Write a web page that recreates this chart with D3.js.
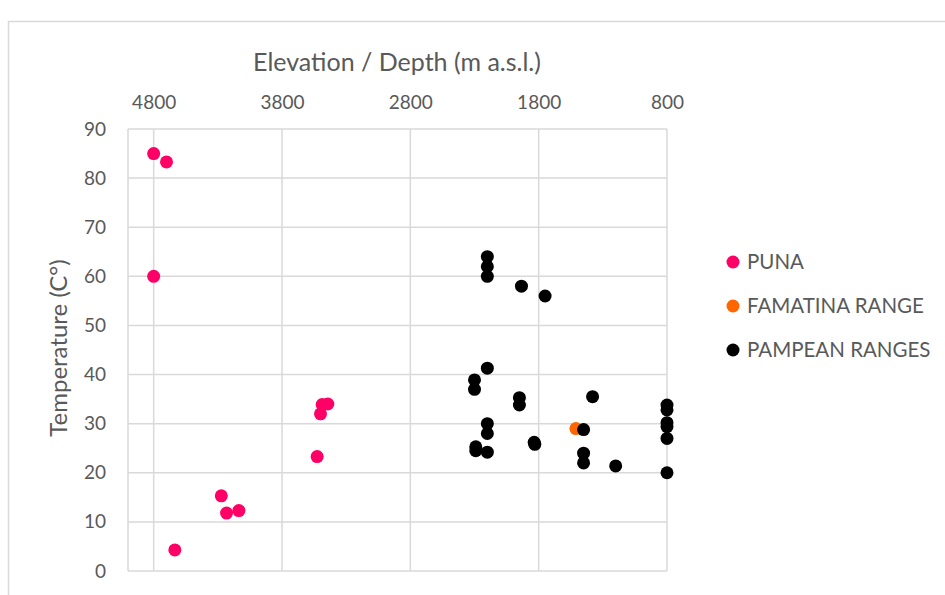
<html>
<head>
<meta charset="utf-8">
<style>
  body { margin: 0; background: #fff; }
  text { font-family: Lato, "Open Sans", sans-serif; fill: #595959; }
  .grid line { stroke: #d9d9d9; stroke-width: 1.5; }
</style>
</head>
<body>
<svg id="chart" width="945" height="595"></svg>
<script src="https://cdn.jsdelivr.net/npm/d3@7"></script>
<script>
// elevation (m a.s.l.) and temperature (°C)
let punaElev = [4800, 4700, 4800, 4635, 4273, 4232, 4136, 3526, 3500, 3487, 3443]
let punaTemp = [85, 83.3, 60, 4.3, 15.3, 11.8, 12.3, 23.3, 32, 33.9, 34]

let famatinaElev = [1510]
let famatinaTemp = [29]

let pampeanElev = [2200, 2200, 2200, 1934, 1750, 2200, 2300, 2300, 1950, 1950, 1380,
                   800, 800, 800, 800, 800, 800, 2200, 2200, 2290, 2290, 2200,
                   1835, 1830, 1450, 1450, 1450, 1200]
let pampeanTemp = [64, 62, 60, 58, 56, 41.3, 38.9, 37, 35.3, 33.8, 35.5,
                   33.8, 32.8, 30.2, 29.4, 27, 20, 30, 28, 25.3, 24.5, 24.2,
                   26.2, 25.8, 28.8, 24, 22, 21.4]

let seriesNames = ["PUNA", "FAMATINA RANGE", "PAMPEAN RANGES"]
let seriesColors = ["#ff0066", "#ff6600", "#000000"]
let xTicks = [4800, 3800, 2800, 1800, 800]
let yTicks = [0, 10, 20, 30, 40, 50, 60, 70, 80, 90]

let svg = d3.select("#chart")

// outer chart frame
svg.append("rect")
   .attr("x", 8.5).attr("y", 21.5)
   .attr("width", 1000).attr("height", 1000)
   .attr("fill", "none").attr("stroke", "#d9d9d9").attr("stroke-width", 1.5)

let x = d3.scaleLinear().domain([5000, 800]).range([128, 667])
let y = d3.scaleLinear().domain([0, 90]).range([571, 129])

// gridlines
let grid = svg.append("g").attr("class", "grid")
grid.selectAll(".h").data(yTicks).enter().append("line")
    .attr("x1", 128).attr("x2", 667)
    .attr("y1", d => y(d)).attr("y2", d => y(d))
grid.selectAll(".v").data(xTicks).enter().append("line")
    .attr("x1", d => x(d)).attr("x2", d => x(d))
    .attr("y1", 129).attr("y2", 571)
grid.append("line").attr("x1", 128).attr("x2", 128).attr("y1", 129).attr("y2", 571)

// axes (labels only, Excel style)
svg.append("g").attr("transform", "translate(0,129)")
    .call(d3.axisTop(x).tickValues(xTicks).tickFormat(d3.format("d")).tickSize(0).tickPadding(20))
svg.append("g").attr("transform", "translate(128,0)")
    .call(d3.axisLeft(y).tickValues(yTicks).tickSize(0).tickPadding(22))
svg.selectAll(".domain").remove()
svg.selectAll(".tick text").style("font-size", "19px").attr("fill", "#595959")

// axis titles
svg.append("text").attr("x", 397).attr("y", 71)
   .attr("text-anchor", "middle").style("font-size", "25px")
   .text("Elevation / Depth (m a.s.l.)")
svg.append("text").attr("transform", "translate(67,348) rotate(-90)")
   .attr("text-anchor", "middle").style("font-size", "24px")
   .text("Temperature (C°)")

// points
let series = [
  d3.zip(punaElev, punaTemp),
  d3.zip(famatinaElev, famatinaTemp),
  d3.zip(pampeanElev, pampeanTemp)
]
series.forEach((pts, i) => {
  svg.append("g").selectAll("circle").data(pts).enter().append("circle")
     .attr("cx", d => x(d[0])).attr("cy", d => y(d[1]))
     .attr("r", 6.5).attr("fill", seriesColors[i])
})

// legend
let legend = svg.append("g").selectAll("g").data(seriesNames).enter().append("g")
    .attr("transform", (d, i) => `translate(733,${262 + i * 44})`)
legend.append("circle").attr("r", 6.5).attr("fill", (d, i) => seriesColors[i])
legend.append("text").attr("x", 14).attr("dy", "0.35em")
      .style("font-size", "20.5px").text(d => d)
</script>
</body>
</html>
